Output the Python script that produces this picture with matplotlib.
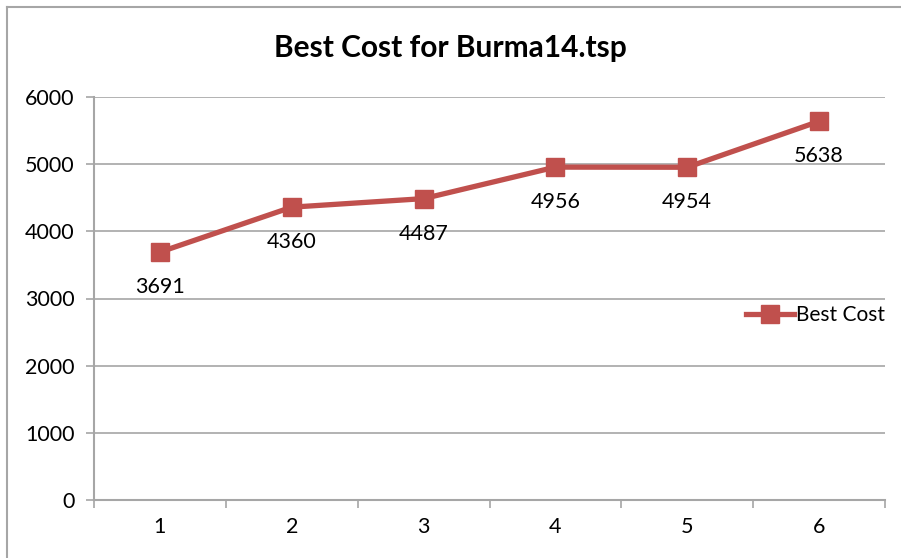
import matplotlib.pyplot as plt
from matplotlib.lines import Line2D

runs = [1, 2, 3, 4, 5, 6]
best_cost = [3691, 4360, 4487, 4956, 4954, 5638]
y_ticks = [0, 1000, 2000, 3000, 4000, 5000, 6000]

red = "#C0504D"
grey = "#A6A6A6"

plt.rcParams["font.family"] = ["Lato", "DejaVu Sans"]

fig = plt.figure(figsize=(9.01, 5.58), dpi=100)
ax = fig.add_axes([94 / 901, 58 / 558, 791 / 901, 403 / 558])

# chart frame (only top and left visible in the reference)
fig.add_artist(Line2D([7 / 901, 7 / 901], [0, 1 - 7 / 558], transform=fig.transFigure, color=grey, lw=1.5))
fig.add_artist(Line2D([7 / 901, 1], [1 - 7 / 558, 1 - 7 / 558], transform=fig.transFigure, color=grey, lw=1.5))

ax.plot(runs, best_cost, color=red, lw=3.8, marker="s", markersize=12.5,
        markerfacecolor=red, markeredgecolor=red, label="Best Cost")

for x, y in zip(runs, best_cost):
    ax.annotate(str(y), (x, y), xytext=(0, -18), textcoords="offset points",
                ha="center", va="top", fontsize=15.5, color="black")

ax.set_xlim(0.5, 6.5)
ax.set_ylim(0, 6000)
ax.set_yticks(y_ticks)
ax.set_yticklabels([str(v) for v in y_ticks], fontsize=15.5)
ax.yaxis.grid(True, color=grey, lw=1.2)
ax.set_axisbelow(True)

# category labels at centers, tick marks at boundaries
ax.set_xticks(runs)
ax.set_xticklabels([str(r) for r in runs], fontsize=15.5)
ax.tick_params(axis="x", which="major", length=0, pad=12)
ax.set_xticks([0.5 + i for i in range(7)], minor=True)
ax.tick_params(axis="x", which="minor", length=6, color=grey, width=1.2)
ax.tick_params(axis="y", length=6, color=grey, width=1.2, pad=8)

for s in ["top", "right"]:
    ax.spines[s].set_visible(False)
for s in ["left", "bottom"]:
    ax.spines[s].set_color(grey)
    ax.spines[s].set_linewidth(1.5)

fig.text(0.5, 1 - 48 / 558, "Best Cost for Burma14.tsp", ha="center", va="center",
         fontsize=21.5, fontweight="bold")

ax.legend(loc="center left", bbox_to_anchor=(0.801, 0.458), frameon=False,
          fontsize=15, handlelength=2.3, handletextpad=0.1)

fig.savefig("out.png", dpi=100)
